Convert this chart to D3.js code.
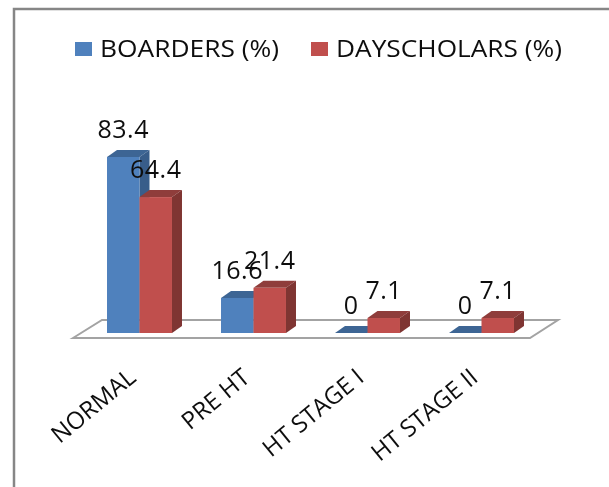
<!DOCTYPE html>
<html>
<head>
<meta charset="utf-8">
<script src="https://cdnjs.cloudflare.com/ajax/libs/d3/7.8.5/d3.min.js"></script>
<style>
  html, body { margin: 0; padding: 0; background: #fff; }
  svg { display: block; }
  text { font-family: "Open Sans", sans-serif; fill: #111; }
</style>
</head>
<body>
<div id="chart"></div>
<script>
const categories = ['NORMAL', 'PRE HT', 'HT STAGE I', 'HT STAGE II'];
const seriesNames = ['BOARDERS (%)', 'DAYSCHOLARS (%)'];
const boarders = [83.4, 16.6, 0, 0];
const dayscholars = [64.4, 21.4, 7.1, 7.1];

const WIDTH = 609;
const HEIGHT = 487;
const BASE_Y = 333;
const DEPTH = { x: 10, y: 7 };
// front, top, side
const BLUES = ['#4f81bd', '#3d6594', '#385d8a'];
const REDS = ['#c0504d', '#8f3c3a', '#7f3432'];

const svg = d3.select('#chart').append('svg')
  .attr('width', WIDTH)
  .attr('height', HEIGHT)
  .attr('viewBox', `0 0 ${WIDTH} ${HEIGHT}`);

const soft = svg.append('defs').append('filter').attr('id', 'soft');
soft.append('feGaussianBlur').attr('stdDeviation', 0.45);

const root = svg.append('g').attr('filter', 'url(#soft)');

// chart frame, only top and left edges are visible in the crop
root.append('path')
  .attr('d', `M14,${HEIGHT}V9H${WIDTH}`)
  .attr('fill', 'none')
  .attr('stroke', '#868686')
  .attr('stroke-width', 2.5);

const x0 = d3.scaleBand()
  .domain(categories)
  .range([82.5, 538.5])
  .paddingInner(0.43)
  .paddingOuter(0.215);
const x1 = d3.scaleBand().domain(seriesNames).range([0, x0.bandwidth()]);
const y = d3.scaleLinear().domain([0, 83.4]).range([BASE_Y, 157]);

// floor
const floorL = x0.range()[0] - 9.5;
const floorR = x0.range()[1] - 8.5;
root.append('path')
  .attr('d', `M${floorL},338L${floorL + 29},320H${floorR + 28}L${floorR},338Z`)
  .attr('fill', '#fff')
  .attr('stroke', '#a3a3a3')
  .attr('stroke-width', 2);

const rows = categories.flatMap((cat, i) => [
  { cat, name: seriesNames[0], value: boarders[i], colors: BLUES },
  { cat, name: seriesNames[1], value: dayscholars[i], colors: REDS }
]);

const bars = root.append('g').selectAll('g').data(rows).join('g')
  .attr('transform', (d) => `translate(${x0(d.cat) + x1(d.name)},0)`);
const w = x1.bandwidth();

bars.append('path') // top face
  .attr('fill', (d) => d.colors[1])
  .attr('d', (d) => `M0,${y(d.value)}l${DEPTH.x},${-DEPTH.y}h${w}l${-DEPTH.x},${DEPTH.y}Z`);
bars.append('path') // side face
  .attr('fill', (d) => d.colors[2])
  .attr('d', (d) => `M${w},${y(d.value)}l${DEPTH.x},${-DEPTH.y}V${BASE_Y - DEPTH.y}l${-DEPTH.x},${DEPTH.y}Z`);
bars.append('rect') // front face
  .attr('fill', (d) => d.colors[0])
  .attr('width', w)
  .attr('y', (d) => y(d.value))
  .attr('height', (d) => BASE_Y - y(d.value));

root.append('g').selectAll('text').data(rows).join('text')
  .attr('x', (d) => x0(d.cat) + x1(d.name) + w / 2)
  .attr('y', (d) => y(d.value) - 19)
  .attr('text-anchor', 'middle')
  .style('font-size', '25px')
  .style('letter-spacing', '0.5px')
  .text((d) => d.value);

// category labels, rotated and ending under the groups
root.append('g').selectAll('text').data(categories).join('text')
  .attr('transform', (d) => `translate(${x0(d) + x0.bandwidth() / 2 - 2},${BASE_Y + 47}) rotate(-39.5)`)
  .attr('text-anchor', 'end')
  .style('font-size', '24px')
  .text((d) => d);

// legend
const legendX = d3.scaleOrdinal().domain(seriesNames).range([75, 311]);
const legendLen = d3.scaleOrdinal().domain(seriesNames).range([179, 226]);
const legend = root.append('g').selectAll('g').data(seriesNames).join('g')
  .attr('transform', (d) => `translate(${legendX(d)},42)`);
legend.append('rect')
  .attr('width', 17)
  .attr('height', 14)
  .attr('fill', (d, i) => (i ? REDS[0] : BLUES[0]));
legend.append('text')
  .attr('x', 25)
  .attr('y', 15)
  .attr('textLength', (d) => legendLen(d))
  .attr('lengthAdjust', 'spacingAndGlyphs')
  .style('font-size', '23px')
  .text((d) => d);
</script>
</body>
</html>
